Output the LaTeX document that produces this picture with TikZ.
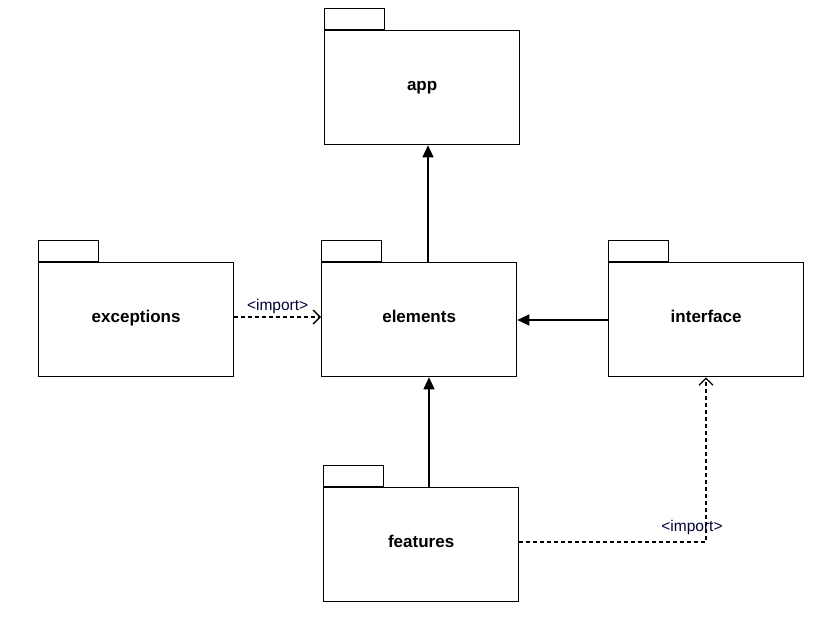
\documentclass[tikz,border=0pt]{standalone}
\usepackage{fontspec}
\setmainfont{Liberation Sans}
\usetikzlibrary{arrows.meta}
\tikzset{
  pkg/.style={draw, line width=1.3pt, minimum width=195pt, minimum height=114pt, anchor=north west, font=\bfseries\fontsize{17}{20}\selectfont, inner sep=0pt, text height=12.4pt, text depth=6pt},
  pkgtab/.style={draw, line width=1.3pt, minimum width=60pt, minimum height=21pt, anchor=south west, inner sep=0pt},
  dep/.style={line width=1.3pt, -{Triangle[length=12pt,width=11pt]}},
  imp/.style={line width=1.3pt, dash pattern=on 4pt off 3pt, -{Straight Barb[length=7pt,width=14pt,line width=1.3pt]}},
  lbl/.style={font=\fontsize{15.5}{18}\selectfont, inner sep=1pt, text=black!80!blue}
}
\begin{document}
\begin{tikzpicture}[x=1pt,y=-1pt]
\useasboundingbox (0,0) rectangle (835,618);
\node[pkg] (app) at (324,30) {app};
\node[pkgtab] (apptab) at (app.north west) {};
\node[pkg] (exc) at (38,262) {exceptions};
\node[pkgtab] (exctab) at (exc.north west) {};
\node[pkg] (ele) at (321,262) {elements};
\node[pkgtab] (eletab) at (ele.north west) {};
\node[pkg] (int) at (608,262) {interface};
\node[pkgtab] (inttab) at (int.north west) {};
\node[pkg] (fea) at (323,487) {features};
\node[pkgtab] (featab) at (fea.north west) {};
\coordinate (bend) at (706,542);
\draw[dep] (428,262) coordinate (a1) -- (a1 |- app.south);
\draw[dep] (int.west |- 0,320) -- (ele.east |- 0,320);
\draw[dep] (429,487) coordinate (a2) -- (a2 |- ele.south);
\draw[imp] (exc.east |- 0,317) -- node[lbl, above=2pt] {<import>} (ele.west |- 0,317);
\draw[imp] (fea.east |- bend) -- (bend) -- (bend |- int.south);
\node[lbl] (implbl) at (692,527) {<import>};
\end{tikzpicture}
\end{document}
